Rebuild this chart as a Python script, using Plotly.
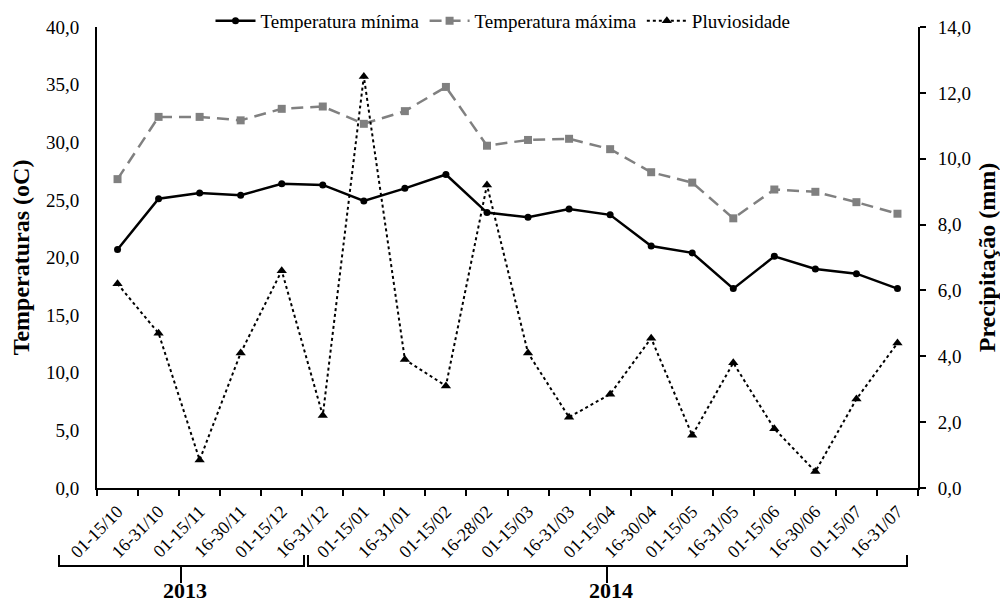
import plotly.graph_objects as go

categories = ["01-15/10", "16-31/10", "01-15/11", "16-30/11", "01-15/12", "16-31/12",
              "01-15/01", "16-31/01", "01-15/02", "16-28/02", "01-15/03", "16-31/03",
              "01-15/04", "16-30/04", "01-15/05", "16-31/05", "01-15/06", "16-30/06",
              "01-15/07", "16-31/07"]
temp_min = [20.7, 25.1, 25.6, 25.4, 26.4, 26.3, 24.9, 26.0, 27.2, 23.9,
            23.5, 24.2, 23.7, 21.0, 20.4, 17.3, 20.1, 19.0, 18.6, 17.3]
temp_max = [26.8, 32.2, 32.2, 31.9, 32.9, 33.1, 31.6, 32.7, 34.8, 29.7,
            30.2, 30.3, 29.4, 27.4, 26.5, 23.4, 25.9, 25.7, 24.8, 23.8]
pluviosidade = [6.2, 4.7, 0.85, 4.1, 6.6, 2.2, 12.5, 3.9, 3.1, 9.2,
                4.1, 2.15, 2.85, 4.55, 1.6, 3.8, 1.8, 0.5, 2.7, 4.4]
years = ["2013", "2014"]

FONT = "'Liberation Serif', 'Times New Roman', 'DejaVu Serif', serif"

fig = go.Figure()
fig.add_trace(go.Scatter(x=categories, y=temp_min, name="Temperatura mínima",
                         mode="lines+markers",
                         line=dict(color="black", width=2.5),
                         marker=dict(symbol="circle", size=7, color="black")))
fig.add_trace(go.Scatter(x=categories, y=temp_max, name="Temperatura máxima",
                         mode="lines+markers",
                         line=dict(color="#808080", width=2.5, dash="12px,7px"),
                         marker=dict(symbol="square", size=8, color="#808080")))
fig.add_trace(go.Scatter(x=categories, y=pluviosidade, name="Pluviosidade",
                         mode="lines+markers", yaxis="y2",
                         line=dict(color="black", width=2, dash="dot"),
                         marker=dict(symbol="triangle-up", size=9, color="black")))

# year brackets below the x axis (paper units)
def px_x(px):
    return (px - 97) / 821.0

def px_y(px):
    return (488 - px) / 461.0

brackets = [(59, 304, 181), (308, 907, 607)]
shapes = []
annotations = []
for (x0, x1, xm), yr in zip(brackets, years):
    shapes.append(dict(type="path", xref="paper", yref="paper",
                       path=(f"M {px_x(x0)},{px_y(555)} L {px_x(x0)},{px_y(566)} "
                             f"L {px_x(x1)},{px_y(566)} L {px_x(x1)},{px_y(555)}"),
                       line=dict(color="black", width=2)))
    shapes.append(dict(type="line", xref="paper", yref="paper", x0=px_x(xm), x1=px_x(xm),
                       y0=px_y(566), y1=px_y(583), line=dict(color="black", width=2)))
    annotations.append(dict(x=px_x(xm + 4), y=px_y(590), xref="paper", yref="paper",
                            text=f"<b>{yr}</b>", showarrow=False,
                            font=dict(family=FONT, size=22, color="black"),
                            xanchor="center", yanchor="middle"))

fig.update_layout(
    width=1000, height=604,
    margin=dict(l=97, r=82, t=27, b=116, autoexpand=False),
    plot_bgcolor="white", paper_bgcolor="white",
    separators=",.",
    font=dict(family=FONT, size=19, color="black"),
    showlegend=True,
    legend=dict(orientation="h", x=px_x(503), xanchor="center", y=px_y(21), yanchor="middle",
                font=dict(family=FONT, size=19, color="black"), bgcolor="rgba(0,0,0,0)",
                itemwidth=40, tracegroupgap=0),
    xaxis=dict(type="category", categoryorder="array", categoryarray=categories,
               range=[-0.5, 19.5], tickangle=-45, tickson="boundaries",
               ticks="outside", ticklen=6, tickwidth=1.5, tickcolor="black",
               showline=True, linecolor="black", linewidth=2, showgrid=False,
               ticklabelstandoff=4, automargin=False,
               tickfont=dict(family=FONT, size=18, color="black")),
    yaxis=dict(range=[0, 40], dtick=5, tickformat=".1f", showgrid=False,
               showline=True, linecolor="black", linewidth=2, ticks="",
               zeroline=False, ticklabelstandoff=12, automargin=False,
               tickfont=dict(family=FONT, size=19, color="black"),
               title=dict(text="<b>Temperaturas (oC)</b>", font=dict(family=FONT, size=24),
                          standoff=10)),
    yaxis2=dict(range=[0, 14], dtick=2, tickformat=".1f", overlaying="y", side="right",
                showgrid=False, showline=True, linecolor="black", linewidth=2,
                ticks="outside", ticklen=6, tickwidth=1.5, tickcolor="black", zeroline=False,
                ticklabelstandoff=8, automargin=False,
                tickfont=dict(family=FONT, size=19, color="black"),
                title=dict(text="<b>Precipitação (mm)</b>", font=dict(family=FONT, size=24),
                           standoff=8)),
    shapes=shapes, annotations=annotations,
)

fig.write_html("out.html")
